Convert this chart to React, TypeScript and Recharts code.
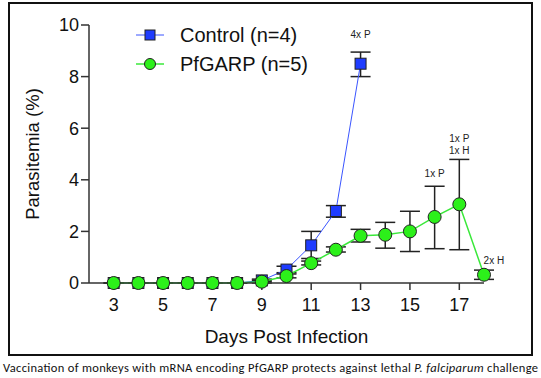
import React from "react";
import { ComposedChart, Line, XAxis, YAxis, ErrorBar, ReferenceDot } from "recharts";

// days post infection
const controlDays = [3, 4, 5, 6, 7, 8, 9, 10, 11, 12, 13];
const controlMean = [0, 0, 0, 0, 0, 0, 0.1, 0.52, 1.46, 2.79, 8.5];
const controlLow = [0, 0, 0, 0, 0, 0, 0.05, 0.4, 0.95, 2.55, 8.0];
const controlHigh = [0, 0, 0, 0, 0, 0, 0.15, 0.65, 2.0, 3.0, 8.95];

const garpDays = [3, 4, 5, 6, 7, 8, 9, 10, 11, 12, 13, 14, 15, 16, 17, 18];
const garpMean = [0, 0, 0, 0, 0, 0, 0.05, 0.27, 0.77, 1.29, 1.83, 1.87, 2.0, 2.56, 3.05, 0.32];
const garpLow = [0, 0, 0, 0, 0, 0, 0, 0.2, 0.7, 1.2, 1.59, 1.35, 1.22, 1.33, 1.29, 0.14];
const garpHigh = [0, 0, 0, 0, 0, 0, 0.1, 0.35, 0.85, 1.4, 2.08, 2.35, 2.78, 3.75, 4.79, 0.5];

const xTicks = [3, 5, 7, 9, 11, 13, 15, 17];
const yTicks = [0, 2, 4, 6, 8, 10];

// annotation labels: [day, y, text]
const notes: [number, number, string][] = [
  [13, 9.63, "4x P"],
  [16, 4.25, "1x P"],
  [17, 5.6, "1x P"],
  [17, 5.14, "1x H"],
  [18.4, 0.87, "2x H"],
];

const BLUE = "#1f3cff";
const GREEN = "#2cf01a";
const FONT = "'Liberation Sans', Arial, sans-serif";

const controlData = controlDays.map((d, i) => ({
  day: d,
  v: controlMean[i],
  err: [controlMean[i] - controlLow[i], controlHigh[i] - controlMean[i]],
}));
const garpData = garpDays.map((d, i) => ({
  day: d,
  v: garpMean[i],
  err: [garpMean[i] - garpLow[i], garpHigh[i] - garpMean[i]],
}));

const squareDot = (p: any) => (
  <rect key={`s${p.index}`} x={p.cx - 5.5} y={p.cy - 5.5} width={11} height={11} fill={BLUE} stroke="#222" strokeWidth={1} />
);
const circleDot = (p: any) => (
  <circle key={`c${p.index}`} cx={p.cx} cy={p.cy} r={6.5} fill={GREEN} stroke="#222" strokeWidth={1} />
);

export default function App() {
  return (
    <div style={{ position: "relative", width: 541, height: 378, background: "#fff", fontFamily: FONT }}>
      <style>{`body{margin:0}`}</style>
      <div style={{ position: "absolute", left: 8, top: 2, width: 521, height: 350, border: "2.5px solid #111" }} />
      <ComposedChart
        width={541}
        height={378}
        margin={{ top: 25, right: 57, bottom: 65, left: 29 }}
        style={{ position: "absolute", left: 0, top: 0 }}
      >
        <XAxis
          type="number"
          dataKey="day"
          domain={[2, 18]}
          ticks={xTicks}
          allowDuplicatedCategory={false}
          height={30}
          tickSize={7}
          tickMargin={8}
          axisLine={{ stroke: "#333", strokeWidth: 1.5 }}
          tickLine={{ stroke: "#333", strokeWidth: 1.5 }}
          tick={{ fontSize: 18, fill: "#111", fontFamily: FONT }}
        />
        <YAxis
          type="number"
          domain={[0, 10]}
          ticks={yTicks}
          width={60}
          tickSize={8}
          axisLine={{ stroke: "#333", strokeWidth: 1.5 }}
          tickLine={{ stroke: "#333", strokeWidth: 1.5 }}
          tick={{ fontSize: 18, fill: "#111", fontFamily: FONT }}
        />
        <Line
          data={controlData}
          dataKey="v"
          stroke="#3a55ff"
          strokeWidth={1}
          dot={squareDot}
          activeDot={false}
          isAnimationActive={false}
        >
          <ErrorBar dataKey="err" direction="y" width={10} stroke="#222" strokeWidth={1.5} />
        </Line>
        <Line
          data={garpData}
          dataKey="v"
          stroke="#3ae83a"
          strokeWidth={1.5}
          dot={circleDot}
          activeDot={false}
          isAnimationActive={false}
        >
          <ErrorBar dataKey="err" direction="y" width={10} stroke="#222" strokeWidth={1.5} />
        </Line>
        {notes.map(([x, y, t]) => (
          <ReferenceDot
            key={t + x + y}
            x={x}
            y={y}
            r={0}
            ifOverflow="visible"
            label={{ value: t, position: "center", fontSize: 10, fill: "#222", fontFamily: FONT }}
          />
        ))}
      </ComposedChart>
      <svg width={541} height={378} style={{ position: "absolute", left: 0, top: 0, pointerEvents: "none" }}>
        <line x1={136} y1={35} x2={164} y2={35} stroke="#3a55ff" strokeWidth={1} />
        <rect x={145} y={30} width={10} height={10} fill={BLUE} stroke="#222" strokeWidth={1} />
        <text x={180} y={42} fontSize={20} fill="#111" fontFamily={FONT}>Control (n=4)</text>
        <line x1={136} y1={64} x2={164} y2={64} stroke="#3ae83a" strokeWidth={1.5} />
        <circle cx={150} cy={64} r={5.5} fill={GREEN} stroke="#222" strokeWidth={1} />
        <text x={180} y={71} fontSize={20} fill="#111" fontFamily={FONT}>PfGARP (n=5)</text>
        <text x={286.5} y={343} fontSize={19} fill="#111" textAnchor="middle" fontFamily={FONT}>Days Post Infection</text>
        <text x={39} y={154} fontSize={18.5} fill="#111" textAnchor="middle" fontFamily={FONT} transform="rotate(-90 39 154)">
          Parasitemia (%)
        </text>
        <text x={270.5} y={372} fontSize={12.5} fill="#111" textAnchor="middle" fontFamily="Carlito, Lato, 'Open Sans', sans-serif" textLength={535}>
          Vaccination of monkeys with mRNA encoding PfGARP protects against lethal <tspan fontStyle="italic">P. falciparum</tspan> challenge
        </text>
      </svg>
    </div>
  );
}
